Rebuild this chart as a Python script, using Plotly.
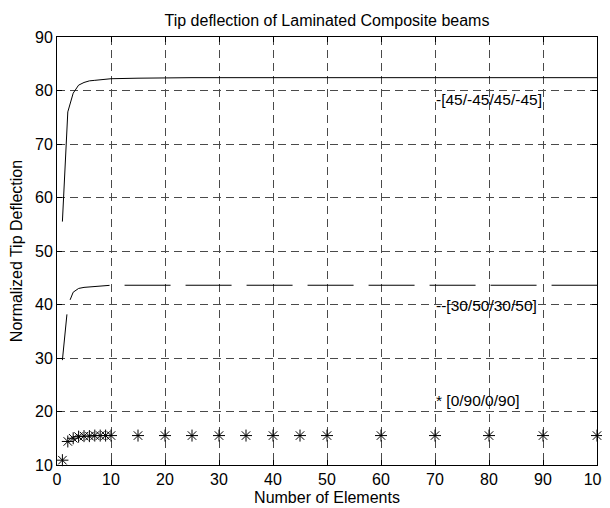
import plotly.graph_objects as go

# ---- data ----
elements = [1, 2, 3, 4, 5, 6, 7, 8, 9, 10, 15, 20, 25, 30, 35, 40, 45, 50, 60, 70, 80, 90, 100]
lam_45 = [55.5, 76.0, 79.5, 81.0, 81.5, 81.8, 81.9, 82.0, 82.1, 82.2, 82.3, 82.4, 82.4, 82.4,
          82.4, 82.4, 82.4, 82.4, 82.4, 82.4, 82.4, 82.4, 82.4]
lam_30 = [29.6, 39.8, 42.3, 43.0, 43.2, 43.3, 43.4, 43.4, 43.5, 43.6, 43.6, 43.6, 43.6, 43.6,
          43.6, 43.6, 43.6, 43.6, 43.6, 43.6, 43.6, 43.6, 43.6]
lam_0 = [10.9, 14.4, 15.0, 15.3, 15.4, 15.4, 15.5, 15.5, 15.5, 15.5, 15.5, 15.5, 15.5, 15.5,
         15.5, 15.5, 15.5, 15.5, 15.5, 15.5, 15.5, 15.5, 15.5]

labels = ["-[45/-45/45/-45]", "--[30/50/30/50]", "* [0/90/0/90]"]
label_x = [70, 70, 70]
label_y = [78.4, 39.9, 22.0]

x_ticks = list(range(0, 101, 10))
y_ticks = list(range(10, 91, 10))

FONT = "Liberation Sans, Arial, Helvetica, sans-serif"

# the page body has an 8px default margin, so the figure is 8px smaller
W, H = 602, 500

fig = go.Figure()
fig.add_trace(go.Scatter(x=elements, y=lam_45, mode="lines",
                         line=dict(color="black", width=1), showlegend=False))
fig.add_trace(go.Scatter(x=elements, y=lam_30, mode="lines",
                         line=dict(color="black", width=1, dash="46px,15px"), showlegend=False))
fig.add_trace(go.Scatter(x=elements, y=lam_0, mode="markers",
                         marker=dict(symbol="asterisk-open", size=10, color="black",
                                     line=dict(color="black", width=1)),
                         cliponaxis=False, showlegend=False))

for t, lx, ly in zip(labels, label_x, label_y):
    fig.add_annotation(x=lx, y=ly, text=t, showarrow=False, xanchor="left", yanchor="middle",
                       xshift=-1, font=dict(family=FONT, size=15.5, color="black"))

axis_common = dict(
    showline=True, linecolor="black", linewidth=1, mirror="ticks",
    ticks="inside", ticklen=5, tickcolor="black", tickwidth=1,
    showgrid=True, gridcolor="#4a4a4a", gridwidth=1, griddash="8px,5px",
    zeroline=False, automargin=False, ticklabeloverflow="allow",
    tickfont=dict(family=FONT, size=16, color="black"),
)

fig.update_xaxes(range=[0, 100], tickvals=x_ticks, ticktext=[str(v) for v in x_ticks],
                 title=dict(text="Number of Elements", font=dict(family=FONT, size=16, color="black"),
                            standoff=4),
                 **axis_common)
fig.update_yaxes(range=[10, 90], tickvals=y_ticks, ticktext=[str(v) for v in y_ticks],
                 title=dict(text="Normalized Tip Deflection", font=dict(family=FONT, size=16, color="black"),
                            standoff=12),
                 **axis_common)

fig.update_layout(
    width=W, height=H,
    margin=dict(l=49, r=13, t=29, b=43, pad=0, autoexpand=False),
    paper_bgcolor="white", plot_bgcolor="white",
    title=dict(text="Tip deflection of Laminated Composite beams", x=0.5, xref="paper",
               y=1 - 12 / H, yref="container", yanchor="middle", xanchor="center",
               font=dict(family=FONT, size=16, color="black"), automargin=False),
    font=dict(family=FONT, size=16, color="black"),
)

fig.write_html("out.html")
